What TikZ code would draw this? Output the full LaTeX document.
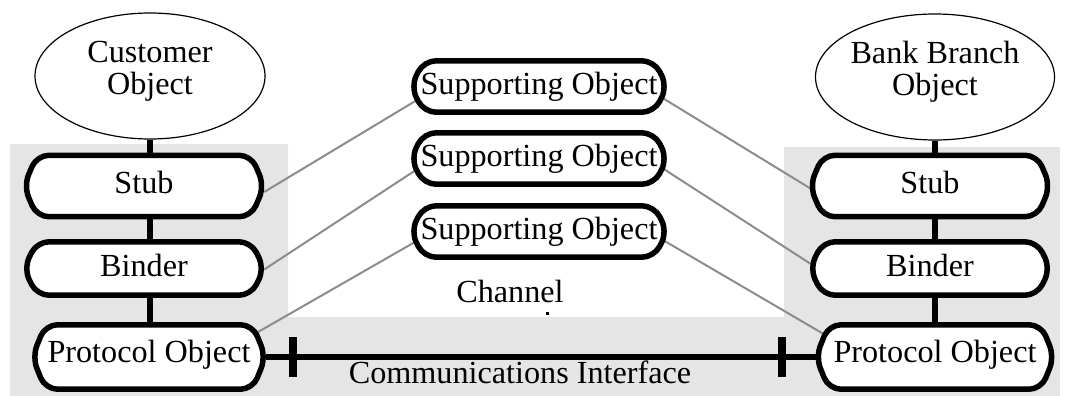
\documentclass[tikz,border=0pt]{standalone}
\usepackage{fontspec}
\setmainfont{Liberation Serif}
\usetikzlibrary{shapes.geometric,calc}
\pgfdeclarelayer{bg}
\pgfdeclarelayer{mid}
\pgfsetlayers{bg,mid,main}
\definecolor{panel}{HTML}{E5E5E5}
\definecolor{wire}{HTML}{8C8C8C}
\tikzset{
  x=1pt, y=-1pt,
  every node/.style={font=\fontsize{32.2}{32}\selectfont, inner sep=0pt},
  capbox/.style={rectangle, minimum width=#1, text height=22pt, text depth=7pt},
  capline/.style={draw=black, line width=5.5pt, fill=white, rounded corners=12pt, line join=round},
  oval/.style={ellipse, draw=black, line width=1.2pt, fill=white, align=center,
               minimum width=230pt, minimum height=126pt, text depth=17pt},
  bar/.style={line width=6pt},
  wireline/.style={draw=wire, line width=2pt},
  tick/.style={line width=8pt}
}
\newcommand\capsule[2]{%
  \draw[capline] ([xshift=#2]#1.north west) -- ([xshift=-#2]#1.north east) -- (#1.east)
    -- ([xshift=-#2]#1.south east) -- ([xshift=#2]#1.south west) -- (#1.west) -- cycle;}
\begin{document}
\begin{tikzpicture}
\useasboundingbox (0,0) rectangle (1068,396);
% background panels
\begin{pgfonlayer}{bg}
  \fill[panel] (10,144) -- (288,144) -- (288,317) -- (784,317) -- (784,147) -- (1060,147)
    -- (1060,396) -- (10,396) -- cycle;
\end{pgfonlayer}

% ellipses
\node[oval] (cust) at (150,76) {Customer\\Object};
\node[oval] (bank) at (935,77) {Bank Branch\\Object};

% left column
\node[capbox=240pt, minimum height=61pt] (stubL) at (144,186) {Stub};
\node[capbox=240pt, minimum height=53pt] (bindL) at (144,268.5) {Binder};
\node[capbox=233pt, minimum height=64pt, text depth=11pt] (protL) at (149,357) {Protocol Object};

% right column
\node[capbox=240pt, minimum height=61pt] (stubR) at (930,186) {Stub};
\node[capbox=240pt, minimum height=53pt] (bindR) at (930,268.5) {Binder};
\node[capbox=238pt, minimum height=64pt, text depth=11pt] (protR) at (935,357) {Protocol Object};

% supporting objects
\node[capbox=256pt, minimum height=51pt] (so1) at (539,86.5) {Supporting Object};
\node[capbox=256pt, minimum height=51pt] (so2) at (539,158.5) {Supporting Object};
\node[capbox=256pt, minimum height=51pt] (so3) at (539,231.5) {Supporting Object};

% labels
\node[anchor=base] (chan) at (510,302) {Channel};
\node[anchor=base] (comm) at (520,383) {Communications Interface};

\begin{pgfonlayer}{mid}
  % gray links
  \draw[wireline] ([yshift=-6pt]stubL.east) -- ([xshift=12pt,yshift=-10pt]so1.west);
  \draw[wireline] ([xshift=-12pt,yshift=-7pt]so1.east) -- ([xshift=8pt,yshift=-7pt]stubR.west);
  \draw[wireline] ([yshift=-1pt]bindL.east) -- ([xshift=12pt,yshift=-7pt]so2.west);
  \draw[wireline] ([xshift=-12pt,yshift=-5pt]so2.east) -- ([xshift=8pt]bindR.west);
  \draw[wireline] ([xshift=-16pt,yshift=-12pt]protL.north east) -- ([xshift=12pt,yshift=-6pt]so3.west);
  \draw[wireline] ([xshift=-12pt,yshift=-4pt]so3.east) -- ([xshift=16pt,yshift=-14pt]protR.north west);
  % vertical bars
  \draw[bar] (cust.south) -- (cust.south |- stubL.north);
  \draw[bar] (cust.south |- stubL.south) -- (cust.south |- bindL.north);
  \draw[bar] (cust.south |- bindL.south) -- (cust.south |- protL.north);
  \draw[bar] (bank.south) -- (bank.south |- stubR.north);
  \draw[bar] (bank.south |- stubR.south) -- (bank.south |- bindR.north);
  \draw[bar] (bank.south |- bindR.south) -- (bank.south |- protR.north);
  % communications interface
  \draw[bar] (protL.east) -- (protR.west);
  \draw[tick] ([xshift=27.5pt,yshift=20pt]protL.east) -- ([xshift=27.5pt,yshift=-20pt]protL.east);
  \draw[tick] ([xshift=-34pt,yshift=20pt]protR.west) -- ([xshift=-34pt,yshift=-20pt]protR.west);
  % small mark under Channel
  \fill (545.5,311.5) rectangle (548.5,314.5);
  % capsule outlines
  \capsule{stubL}{13pt}
  \capsule{bindL}{13pt}
  \capsule{protL}{13pt}
  \capsule{stubR}{13pt}
  \capsule{bindR}{13pt}
  \capsule{protR}{13pt}
  \capsule{so1}{13pt}
  \capsule{so2}{13pt}
  \capsule{so3}{13pt}
\end{pgfonlayer}
\end{tikzpicture}
\end{document}
